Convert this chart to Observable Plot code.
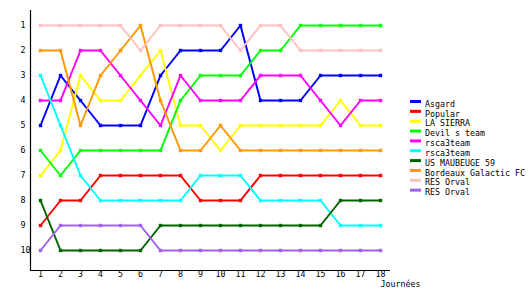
<!DOCTYPE html>
<html>
<head>
<meta charset="utf-8">
<script src="https://cdn.jsdelivr.net/npm/d3@7"></script>
<script src="https://cdn.jsdelivr.net/npm/@observablehq/plot@0.6"></script>
<style>
  html, body { margin: 0; padding: 0; background: white; }
  #chart { position: relative; width: 530px; height: 300px; }
</style>
</head>
<body>
<div id="chart"></div>
<script>
const days = [1, 2, 3, 4, 5, 6, 7, 8, 9, 10, 11, 12, 13, 14, 15, 16, 17, 18];
const rankTicks = [1, 2, 3, 4, 5, 6, 7, 8, 9, 10];
const xLabel = "Journées";

const teams = ["Asgard", "Popular", "LA SIERRA", "Devil s team", "rsca3team", "rsca3team",
  "US MAUBEUGE 59", "Bordeaux Galactic FC", "RES Orval", "RES Orval"];
const colors = ["#0000ff", "#ff0000", "#ffff00", "#00ff00", "#ff00ff", "#00ffff",
  "#006400", "#ff9900", "#ffc0c0", "#a060f0"];

const asgard    = [5, 3, 4, 5, 5, 5, 3, 2, 2, 2, 1, 4, 4, 4, 3, 3, 3, 3];
const popular   = [9, 8, 8, 7, 7, 7, 7, 7, 8, 8, 8, 7, 7, 7, 7, 7, 7, 7];
const laSierra  = [7, 6, 3, 4, 4, 3, 2, 5, 5, 6, 5, 5, 5, 5, 5, 4, 5, 5];
const devils    = [6, 7, 6, 6, 6, 6, 6, 4, 3, 3, 3, 2, 2, 1, 1, 1, 1, 1];
const rscaA     = [4, 4, 2, 2, 3, 4, 5, 3, 4, 4, 4, 3, 3, 3, 4, 5, 4, 4];
const rscaB     = [3, 5, 7, 8, 8, 8, 8, 8, 7, 7, 7, 8, 8, 8, 8, 9, 9, 9];
const maubeuge  = [8, 10, 10, 10, 10, 10, 9, 9, 9, 9, 9, 9, 9, 9, 9, 8, 8, 8];
const bordeaux  = [2, 2, 5, 3, 2, 1, 4, 6, 6, 5, 6, 6, 6, 6, 6, 6, 6, 6];
const resOrvalA = [1, 1, 1, 1, 1, 2, 1, 1, 1, 1, 2, 1, 1, 2, 2, 2, 2, 2];
const resOrvalB = [10, 9, 9, 9, 9, 9, 10, 10, 10, 10, 10, 10, 10, 10, 10, 10, 10, 10];

const series = [asgard, popular, laSierra, devils, rscaA, rscaB, maubeuge, bordeaux, resOrvalA, resOrvalB];
const keys = teams.map((t, i) => i);

const table = [];
series.forEach((vals, i) => {
  vals.forEach((r, j) => table.push({key: i, team: teams[i], day: days[j], rank: r}));
});

const FONT = "DejaVu Sans Mono";
const FS = 8.3;

const plot = Plot.plot({
  width: 530,
  height: 300,
  marginLeft: 30,
  marginRight: 140,
  marginTop: 10,
  marginBottom: 30,
  style: {background: "white", color: "black", fontFamily: FONT, fontSize: FS + "px", overflow: "visible"},
  x: {domain: [0.5, 18.5]},
  y: {domain: [10.8, 0.4]},
  color: {domain: keys, range: colors},
  marks: [
    Plot.ruleX([0.5], {stroke: "black", strokeWidth: 1.2}),
    Plot.ruleY([10.8], {stroke: "black", strokeWidth: 1.2}),
    Plot.axisY({ticks: rankTicks, tickSize: 0, tickPadding: 10, textAnchor: "start", fontSize: FS, fill: "black", label: null}),
    Plot.axisX({ticks: days, tickSize: 0, tickPadding: 1, fontSize: FS, fill: "black", label: null}),
    Plot.text([xLabel], {frameAnchor: "bottom-right", textAnchor: "start", dx: -10, dy: 14, lineAnchor: "middle", fontSize: FS, fill: "black"}),
    Plot.line(table, {x: "day", y: "rank", z: "key", stroke: "key", strokeWidth: 2, curve: "linear"}),
    Plot.dot(table, {x: "day", y: "rank", fill: "key", symbol: "square", r: 1.9})
  ]
});

document.getElementById("chart").appendChild(plot);

// legend
const svg = d3.select(plot);
const lg = svg.append("g").attr("font-family", FONT).attr("font-size", FS).attr("text-anchor", "start");
teams.forEach((t, i) => {
  const y = 104 + i * 9.85;
  lg.append("rect").attr("x", 410).attr("y", y - 4).attr("width", 11).attr("height", 3).attr("fill", colors[i]);
  lg.append("text").attr("x", 425).attr("y", y).attr("dy", "0.32em").attr("fill", "black").text(t);
});
</script>
</body>
</html>
